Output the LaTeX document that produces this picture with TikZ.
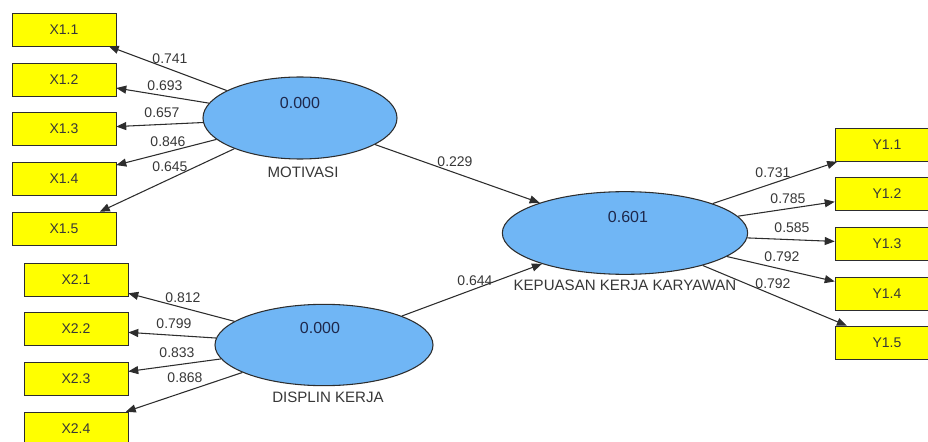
\documentclass[tikz,border=0pt]{standalone}
\usepackage{fontspec}
\setmainfont{Liberation Sans}
\usetikzlibrary{shapes.geometric,arrows.meta}
\definecolor{plsblue}{RGB}{112,182,245}
\definecolor{plsyellow}{RGB}{255,255,0}
\definecolor{plsline}{RGB}{45,45,45}
\definecolor{plstext}{RGB}{55,55,55}
\definecolor{plsnavy}{RGB}{30,40,75}

\begin{document}
\begin{tikzpicture}[x=0.75pt,y=-0.75pt,
        indicator/.style={rectangle,draw=plsline,fill=plsyellow,minimum width=78pt,minimum height=24.75pt,inner sep=0pt,font=\fontsize{10.5}{12}\selectfont,text=plstext},
        construct/.style={ellipse,draw=plsline,fill=plsblue,inner sep=0pt,line width=0.8pt},
        rsq/.style={font=\fontsize{12}{14}\selectfont,text=plsnavy,inner sep=0pt},
        cname/.style={font=\fontsize{11.3}{13}\selectfont,text=plstext,inner sep=0pt},
        load/.style={font=\fontsize{10.5}{12}\selectfont,text=plstext,inner sep=0pt},
        arr/.style={draw=plsline,line width=0.8pt,-{Triangle[length=7.5pt,width=6pt]}}]
        \useasboundingbox (0,0) rectangle (928,442);
        \clip (0,0) rectangle (928,442);
        % latent variables
        \node[construct,minimum width=145.5pt,minimum height=61.5pt] (mot) at (300,118) {};
        \node[construct,minimum width=163.5pt,minimum height=61pt] (dis) at (324,345) {};
        \node[construct,minimum width=184pt,minimum height=62pt] (kep) at (625,233) {};
        \node[rsq] (motval) at (300,103) {0.000};
        \node[rsq] (disval) at (320,328) {0.000};
        \node[rsq] (kepval) at (628,217) {0.601};
        \node[cname] (motname) at (303,172) {MOTIVASI};
        \node[cname] (disname) at (328,397) {DISPLIN KERJA};
        \node[cname] (kepname) at (625,285) {KEPUASAN KERJA KARYAWAN};
        % indicators
        \node[indicator] (x11) at (64,29.5) {X1.1};
        \node[indicator] (x12) at (64,79.5) {X1.2};
        \node[indicator] (x13) at (64,129) {X1.3};
        \node[indicator] (x14) at (64,178.5) {X1.4};
        \node[indicator] (x15) at (64,228.5) {X1.5};
        \node[indicator] (x21) at (76,279.5) {X2.1};
        \node[indicator] (x22) at (76,329) {X2.2};
        \node[indicator] (x23) at (76,378.5) {X2.3};
        \node[indicator] (x24) at (76,428.5) {X2.4};
        \node[indicator] (y11) at (887,145) {Y1.1};
        \node[indicator] (y12) at (887,194) {Y1.2};
        \node[indicator] (y13) at (887,243.5) {Y1.3};
        \node[indicator] (y14) at (887,293.5) {Y1.4};
        \node[indicator] (y15) at (887,342.5) {Y1.5};
        % outer loadings
        \draw[arr] (mot) -- (x11);
        \draw[arr] (mot) -- (x12);
        \draw[arr] (mot) -- (x13);
        \draw[arr] (mot) -- (x14);
        \draw[arr] (mot) -- (x15);
        \draw[arr] (dis) -- (x21);
        \draw[arr] (dis) -- (x22);
        \draw[arr] (dis) -- (x23);
        \draw[arr] (dis) -- (x24);
        \draw[arr] (kep) -- (y11);
        \draw[arr] (kep) -- (y12);
        \draw[arr] (kep) -- (y13);
        \draw[arr] (kep) -- (y14);
        \draw[arr] (kep) -- (y15);
        % path coefficients
        \draw[arr] (mot) -- (kep);
        \draw[arr] (dis) -- (kep);
        % values
        \node[load] (l11) at (170,59) {0.741};
        \node[load] (l12) at (165,86) {0.693};
        \node[load] (l13) at (162,113) {0.657};
        \node[load] (l14) at (168,142) {0.846};
        \node[load] (l15) at (170,167) {0.645};
        \node[load] (l21) at (183,298) {0.812};
        \node[load] (l22) at (174,324) {0.799};
        \node[load] (l23) at (177,353) {0.833};
        \node[load] (l24) at (185,378) {0.868};
        \node[load] (ly1) at (773,173) {0.731};
        \node[load] (ly2) at (788,199) {0.785};
        \node[load] (ly3) at (792,228) {0.585};
        \node[load] (ly4) at (782,257) {0.792};
        \node[load] (ly5) at (773,284) {0.792};
        \node[load] (pmot) at (455,162) {0.229};
        \node[load] (pdis) at (475,281) {0.644};
\end{tikzpicture}
\end{document}
